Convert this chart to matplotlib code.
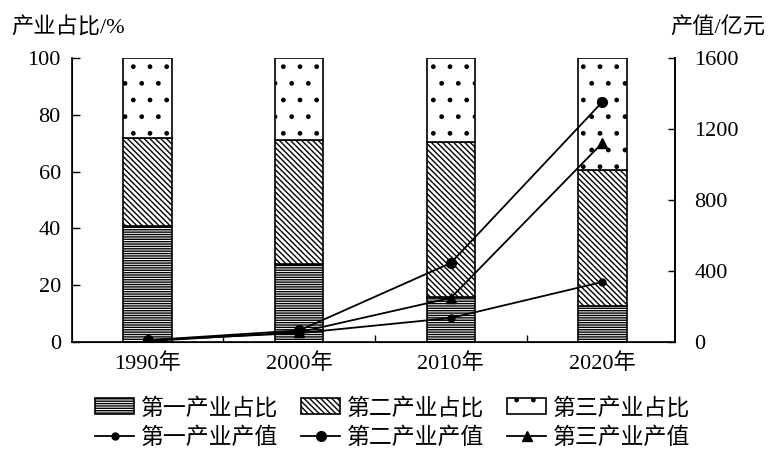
import matplotlib
matplotlib.use('Agg')
import matplotlib.pyplot as plt
import numpy as np

plt.rcParams['font.family'] = ['Liberation Serif', 'Noto Sans CJK SC']
plt.rcParams['hatch.linewidth'] = 1.0

years = ['1990年', '2000年', '2010年', '2020年']

# industry share, %
share_1 = [41, 27.5, 16, 12.5]
share_2 = [31, 43.5, 54.5, 48]
share_3 = [28, 29, 29.5, 39.5]

# output value, 100 million yuan
value_1 = [10, 50, 135, 338]
value_2 = [10, 65, 445, 1352]
value_3 = [5, 55, 248, 1121]

x = np.arange(len(years))

fig = plt.figure(figsize=(7.78, 4.55), dpi=100)
ax = fig.add_axes([0.0925, 0.2484, 0.7751, 0.6241])

w = 0.32
b1 = ax.bar(x, share_1, w, color='white', edgecolor='black', lw=1.2, hatch='-------')
b2 = ax.bar(x, share_2, w, bottom=share_1, color='white', edgecolor='black', lw=1.2,
            hatch='\\\\\\\\\\\\')
bot3 = [a + b for a, b in zip(share_1, share_2)]
b3 = ax.bar(x, share_3, w, bottom=bot3, color='white', edgecolor='black', lw=1.2, hatch='.')

ax.set_xlim(-0.5, 3.48)
ax.set_ylim(0, 100)
ax.set_yticks([0, 20, 40, 60, 80, 100])
ax.set_xticks(x)
ax.set_xticklabels(years)
ax.set_xticks([0.5, 1.5, 2.5], minor=True)
ax.tick_params(axis='x', which='major', length=0, pad=8, labelsize=16)
ax.tick_params(axis='x', which='minor', direction='in', length=5, width=1)
ax.tick_params(axis='y', direction='in', length=6, width=1, pad=8, labelsize=16)
ax.spines['top'].set_visible(False)
for s in ['left', 'bottom', 'right']:
    ax.spines[s].set_linewidth(1.2)

ax2 = ax.twinx()
ax2.set_ylim(0, 1600)
ax2.set_yticks([0, 400, 800, 1200, 1600])
ax2.tick_params(axis='y', direction='in', length=5, width=1, pad=14, labelsize=16)
ax2.spines['top'].set_visible(False)
ax2.spines['right'].set_linewidth(1.2)
l1, = ax2.plot(x, value_1, color='black', lw=1.3, marker='o', ms=5)
l2, = ax2.plot(x, value_2, color='black', lw=1.3, marker='o', ms=7)
l3, = ax2.plot(x, value_3, color='black', lw=1.3, marker='^', ms=7)

fig.text(0.015, 0.938, '产业占比/%', fontsize=16, va='center', ha='left')
fig.text(0.862, 0.938, '产值/亿元', fontsize=16, va='center', ha='left')

handles = [b1, l1, b2, l2, b3, l3]
labels = ['第一产业占比', '第一产业产值', '第二产业占比', '第二产业产值',
          '第三产业占比', '第三产业产值']
fig.legend(handles, labels, ncol=3, frameon=False, loc='center',
           bbox_to_anchor=(0.505, 0.07), fontsize=16.5, handlelength=1.7,
           handletextpad=0.3, columnspacing=1.0, labelspacing=0.35)

fig.savefig('out.png', dpi=100)
